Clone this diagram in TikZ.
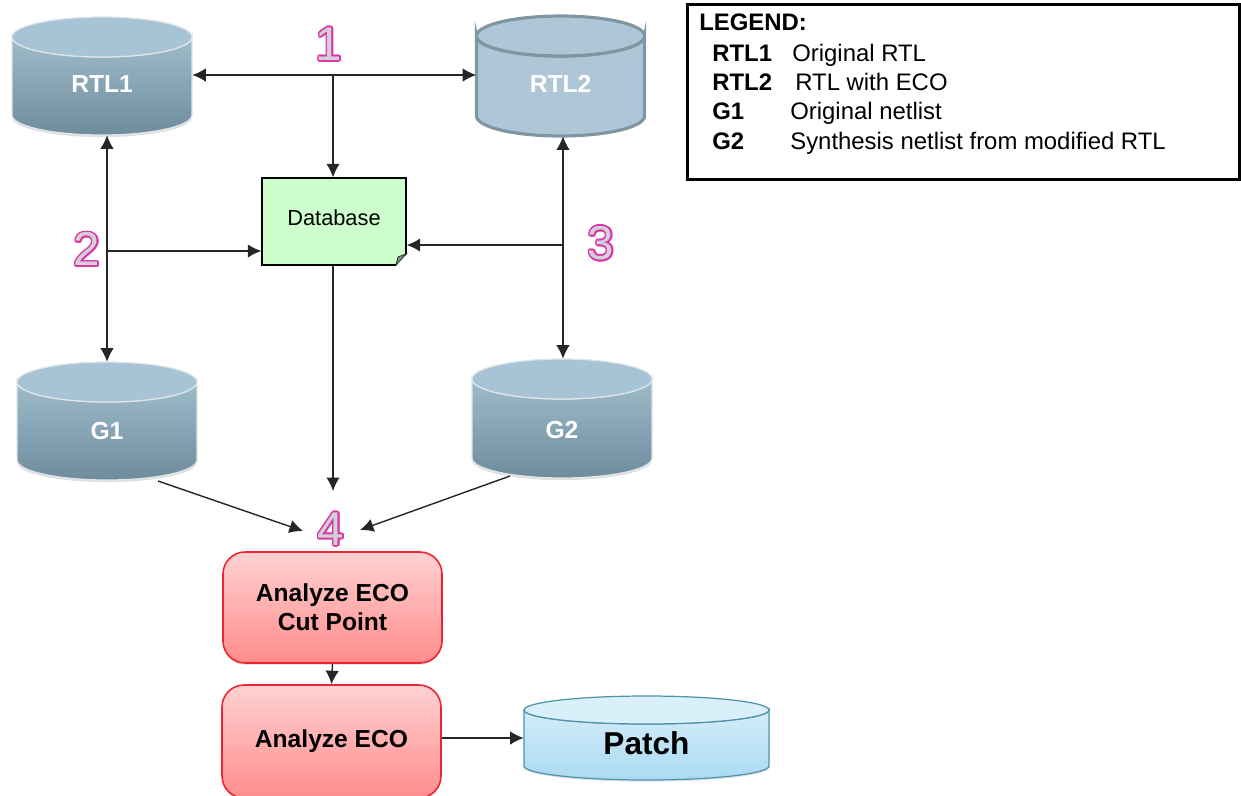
\documentclass[tikz,border=0pt]{standalone}
\usepackage{fontspec}
\usepackage[copies]{contour}
\setmainfont{Liberation Sans}
\usetikzlibrary{arrows.meta,shadows}
\contourlength{0.9pt}
\definecolor{dbedge}{HTML}{7F97A3}
\definecolor{dbtopc}{HTML}{9FBCCB}
\definecolor{dbbotc}{HTML}{6F8C9D}
\definecolor{dbfacec}{HTML}{A6C4D6}
\definecolor{dbflat}{HTML}{AEC6D6}
\definecolor{patchedge}{HTML}{4E93AB}
\definecolor{patchtopc}{HTML}{D4ECF8}
\definecolor{patchbotc}{HTML}{A9DAF3}
\definecolor{patchface}{HTML}{D9EFFA}
\definecolor{numpink}{HTML}{D838A8}
\definecolor{numfill}{HTML}{D4D0D8}
\definecolor{redline}{HTML}{EE2233}
\tikzset{
  link/.style={draw=black!85,line width=0.8pt,-{Latex[length=2.7mm,width=2.7mm]}},
  linkboth/.style={link,{Latex[length=2.7mm,width=2.7mm]}-{Latex[length=2.7mm,width=2.7mm]}},
  dbgrey/.style={draw=white!75!dbedge,line width=0.7pt,top color=dbtopc,bottom color=dbbotc,drop shadow={opacity=0.25,shadow xshift=0pt,shadow yshift=-1.2pt}},
  dbgreytop/.style={draw=white!75!dbedge,line width=0.7pt,fill=dbfacec},
  dbflatbody/.style={draw=dbedge,line width=1.8pt,fill=dbflat},
  dbpatch/.style={draw=patchedge,line width=0.7pt,top color=patchtopc,bottom color=patchbotc,drop shadow={opacity=0.2,shadow xshift=0pt,shadow yshift=-1pt}},
  dbpatchtop/.style={draw=patchedge,line width=0.7pt,fill=patchface},
  dbtxt/.style={inner sep=0pt,font=\fontsize{14}{16}\selectfont\bfseries,text=white},
  stepred/.style={rectangle,rounded corners=4.4mm,draw=redline,line width=0.9pt,top color=red!18,bottom color=red!45,
    minimum width=43.8mm,align=center,font=\fontsize{14}{16.4}\selectfont\bfseries,text=black,drop shadow={opacity=0.2,shadow xshift=0pt,shadow yshift=-1pt}},
  num/.style={font=\fontsize{27}{27}\selectfont,inner sep=0pt},
  legendtxt/.style={anchor=base west,inner sep=0pt,font=\fontsize{13.6}{15}\selectfont},
  legendkey/.style={legendtxt,font=\fontsize{13.6}{15}\selectfont\bfseries}
}
\newcommand{\numlabel}[1]{\contour{numpink}{\textcolor{numfill}{#1}}}
\newcommand{\dropby}[2]{\raisebox{-#1}[0pt][0pt]{#2}}
% drum: centre x, centre y, half width, half height, end radius, body style, top style
\newcommand{\drum}[7]{
  \path[#6] ({#1-#3},{#2-#4+#5}) -- ({#1-#3},{#2+#4-#5}) arc (180:0:#3 and #5) -- ({#1+#3},{#2-#4+#5}) arc (0:180:#3 and #5) -- cycle;
  \path[#7] (#1,{#2-#4+#5}) ellipse (#3 and #5);
}
\begin{document}
\begin{tikzpicture}[x=0.02cm,y=-0.02cm]
\useasboundingbox (0,0) rectangle (1241,795);
% stores
\drum{102}{76}{90}{59}{20}{dbgrey}{dbgreytop}
\node[dbtxt,minimum width=36mm,minimum height=23.6mm] (rtlone) at (102,76) {\dropby{3.2mm}{RTL1}};
\drum{560.5}{76}{84}{60}{20}{dbflatbody}{dbflatbody}
\node[dbtxt,minimum width=33.6mm,minimum height=24mm] (rtltwo) at (560.5,76) {\dropby{3.2mm}{RTL2}};
\drum{107}{421}{90}{59}{20}{dbgrey}{dbgreytop}
\node[dbtxt,minimum width=36mm,minimum height=23.6mm] (gone) at (107,421) {\dropby{3.6mm}{G1}};
\drum{562}{418.5}{90}{59.5}{20}{dbgrey}{dbgreytop}
\node[dbtxt,minimum width=36mm,minimum height=23.8mm] (gtwo) at (562,418.5) {\dropby{3.9mm}{G2}};
% database sheet
\node[rectangle,draw=black,line width=0.8pt,fill=green!20,minimum width=28.8mm,minimum height=17.4mm,font=\fontsize{12.4}{14}\selectfont] (db) at (334,221.5) {\dropby{0.7mm}{Database}};
\path[fill=white] (396,266) -- (408,266) -- (408,253) -- cycle;
\path[draw=black!80,line width=0.5pt,fill=green!35!black!55] (396,265) -- (398,257) -- (406,254) -- cycle;
% steps
\node[stepred,minimum height=22.2mm] (cut) at (332.5,607.5) {Analyze ECO\\Cut Point};
\node[stepred,minimum height=22.6mm] (eco) at (331.5,741.5) {Analyze ECO};
\drum{646.5}{738}{122.5}{42}{14}{dbpatch}{dbpatchtop}
\node[inner sep=0pt,minimum width=49mm,minimum height=16.8mm,font=\fontsize{18}{20}\selectfont\bfseries] (patch) at (646.5,738) {\dropby{3.3mm}{Patch}};
% numbers
\node[num] (none) at (329,45) {\numlabel{1}};
\node[num] (ntwo) at (87,250) {\numlabel{2}};
\node[num] (nthree) at (601,244) {\numlabel{3}};
\node[num] (nfour) at (331,530) {\numlabel{4}};
% junctions
\coordinate (jtop) at (333,75);
\coordinate (jleft) at (107,251);
\coordinate (jright) at (563,245);
\coordinate (cone) at (158,481);
\coordinate (ctwo) at (510,476);
\coordinate (inl) at (303,531);
\coordinate (inr) at (360,530);
\coordinate (inm) at (333,491);
% connectors
\draw[linkboth] (jtop -| rtlone.east) -- (jtop -| rtltwo.west);
\draw[link] (jtop) -- (db.north -| jtop);
\draw[linkboth] (jleft |- rtlone.south) -- (jleft |- gone.north);
\draw[link] (jleft) -- (jleft -| db.west);
\draw[linkboth] (jright |- rtltwo.south) -- (jright |- gtwo.north);
\draw[link] (jright) -- (jright -| db.east);
\draw[link] (db.south -| inm) -- (inm);
\draw[link] (cone) -- (inl);
\draw[link] (ctwo) -- (inr);
\draw[link] (cut.south) -- (eco.north);
\draw[link] (eco.east |- patch.center) -- (patch.west |- patch.center);
% legend
\node[rectangle,draw=black,line width=1.7pt,minimum width=110.6mm,minimum height=35.2mm] (legend) at (963.5,92) {};
\node[legendkey] (lhead) at (699,30) {LEGEND:};
\node[legendkey] (lkeya) at (712,61) {RTL1};
\node[legendtxt] (ltxta) at (792,61) {Original RTL};
\node[legendkey] (lkeyb) at (712,90) {RTL2};
\node[legendtxt] (ltxtb) at (795,90) {RTL with ECO};
\node[legendkey] (lkeyc) at (712,119) {G1};
\node[legendtxt] (ltxtc) at (790,119) {Original netlist};
\node[legendkey] (lkeyd) at (712,149) {G2};
\node[legendtxt] (ltxtd) at (790,149) {Synthesis netlist from modified RTL};
\end{tikzpicture}
\end{document}
